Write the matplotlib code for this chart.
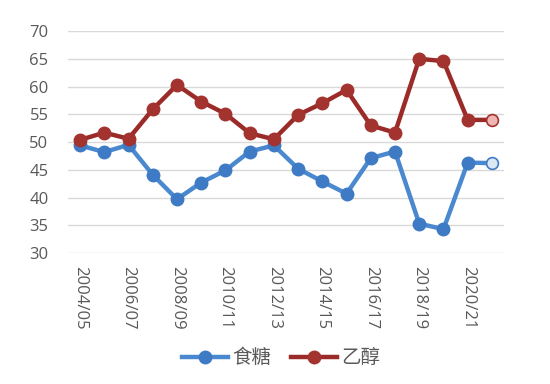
import matplotlib
matplotlib.use("Agg")
import matplotlib.pyplot as plt

plt.rcParams['font.family'] = ['Open Sans', 'Noto Sans CJK SC', 'DejaVu Sans']

# 榨季
seasons = ['2004/05', '2005/06', '2006/07', '2007/08', '2008/09', '2009/10',
           '2010/11', '2011/12', '2012/13', '2013/14', '2014/15', '2015/16',
           '2016/17', '2017/18', '2018/19', '2019/20', '2020/21', '2021/22']
sugar = [49.4, 48.2, 49.5, 44.1, 39.7, 42.7, 44.9, 48.3, 49.4, 45.2,
         42.9, 40.7, 47.1, 48.3, 35.3, 34.3, 46.3, 46.2]
ethanol = [50.4, 51.7, 50.6, 55.9, 60.3, 57.3, 55.1, 51.6, 50.5, 54.9,
           57.0, 59.4, 53.0, 51.7, 65.0, 64.6, 54.0, 54.0]
labels = ['食糖', '乙醇']

blue_line, blue_mk, blue_light = '#4a88d0', '#3e7bc4', '#dce7f5'
red_line, red_mk, red_light = '#9b2b28', '#a3332f', '#efb6b4'

fig = plt.figure(figsize=(5.5, 3.84), dpi=100)
ax = fig.add_axes([0.1236, 0.341, 0.7928, 0.578])

x = list(range(len(seasons)))
series = [(sugar, blue_line, blue_mk, blue_light), (ethanol, red_line, red_mk, red_light)]
for (vals, lc, mc, light), lab in zip(series, labels):
    ax.plot(x, vals, color=lc, linewidth=3.2, zorder=3)
    ax.plot(x[:-1], vals[:-1], linestyle='none', marker='o', markersize=9,
            markerfacecolor=mc, markeredgecolor=mc, zorder=4)
    ax.plot(x[-1:], vals[-1:], linestyle='none', marker='o', markersize=8.5,
            markerfacecolor=light, markeredgecolor=mc, markeredgewidth=1.2, zorder=4)
    # legend handle
    ax.plot([], [], color=lc, linewidth=3.2, marker='o', markersize=9,
            markerfacecolor=mc, markeredgecolor=mc, label=lab)

ax.set_ylim(30, 70)
ax.set_xlim(-0.5, len(seasons) - 0.5)
ax.set_yticks(range(30, 71, 5))
ax.set_xticks(x[::2])
ax.set_xticklabels(seasons[::2], rotation=-90, va='top', ha='center')
ax.tick_params(axis='both', length=0, labelsize=12, colors='#595959')
ax.tick_params(axis='y', pad=14)
ax.tick_params(axis='x', pad=9)
ax.grid(axis='y', color='#d9d9d9', linewidth=1)
ax.set_axisbelow(True)
for s in ax.spines.values():
    s.set_visible(False)

leg = fig.legend(loc='center', bbox_to_anchor=(0.511, 0.068), ncol=2, frameon=False,
                 prop={'family': ['Noto Sans CJK SC'], 'size': 14},
                 handlelength=2.4, columnspacing=1.0, handletextpad=0.2)
for t in leg.get_texts():
    t.set_color('#595959')

fig.savefig('out.png', dpi=100)
